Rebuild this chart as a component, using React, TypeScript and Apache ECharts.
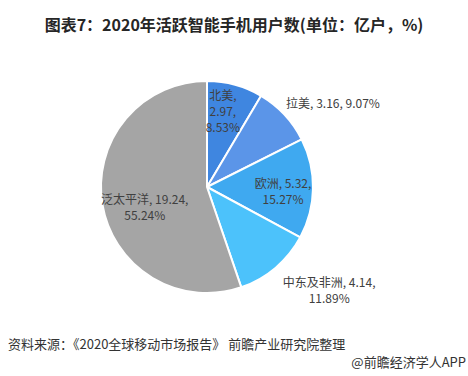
import React, { useEffect, useRef } from "react";
import * as echarts from "echarts";

const regions = ["北美", "拉美", "欧洲", "中东及非洲", "泛太平洋"];
const users = [2.97, 3.16, 5.32, 4.14, 19.24];
const colors = ["#3f86e0", "#5b95e8", "#3fa9f0", "#4cc2fb", "#a5a5a5"];
const labelFormats = ["{b},\n{c},\n{d}%", "{b}, {c}, {d}%", "{b}, {c},\n{d}%", "{b}, {c},\n{d}%", "{b}, {c},\n{d}%"];
const labelShift: [number, number][] = [[1, -22], [85, -46], [20, 3], [86, 60], [-7, 10]];

const titleText = "图表7：2020年活跃智能手机用户数(单位：亿户，%)";
const sourceText = "资料来源：《2020全球移动市场报告》 前瞻产业研究院整理";
const brandText = "@前瞻经济学人APP";

const FONT = "'Microsoft YaHei', 'Noto Sans CJK SC', sans-serif";

export default function App() {
  const ref = useRef<HTMLDivElement>(null);
  useEffect(() => {
    if (!ref.current) return;
    const chart = echarts.init(ref.current, undefined, { renderer: "svg" });
    chart.setOption({
      animation: false,
      backgroundColor: "#ffffff",
      title: {
        text: titleText,
        left: "center",
        top: 11,
        textStyle: { fontFamily: FONT, fontSize: 16, fontWeight: "bold", color: "#262626" },
      },
      graphic: [
        {
          type: "text",
          left: 8,
          top: 337,
          style: { text: sourceText, fontFamily: FONT, fontSize: 13, fill: "#333333" },
        },
        {
          type: "text",
          right: 2,
          top: 355,
          style: { text: brandText, fontFamily: FONT, fontSize: 13, fill: "#333333" },
        },
      ],
      series: [
        {
          type: "pie",
          center: [207, 187],
          radius: [0, 106],
          startAngle: 90,
          clockwise: true,
          itemStyle: { borderColor: "#ffffff", borderWidth: 2 },
          label: {
            show: true,
            position: "inside",
            fontFamily: FONT,
            fontSize: 12,
            lineHeight: 16,
            color: "#404040",
          },
          labelLine: { show: false },
          labelLayout: (p: any) => {
            const s = labelShift[p.dataIndex];
            return { dx: s[0], dy: s[1] };
          },
          data: regions.map((name, i) => ({
            name,
            value: users[i],
            itemStyle: { color: colors[i] },
            label: { formatter: labelFormats[i] },
          })),
        },
      ],
    });
    return () => chart.dispose();
  }, []);
  return <div ref={ref} style={{ position: "fixed", left: 0, top: 0, width: 468, height: 376 }} />;
}
